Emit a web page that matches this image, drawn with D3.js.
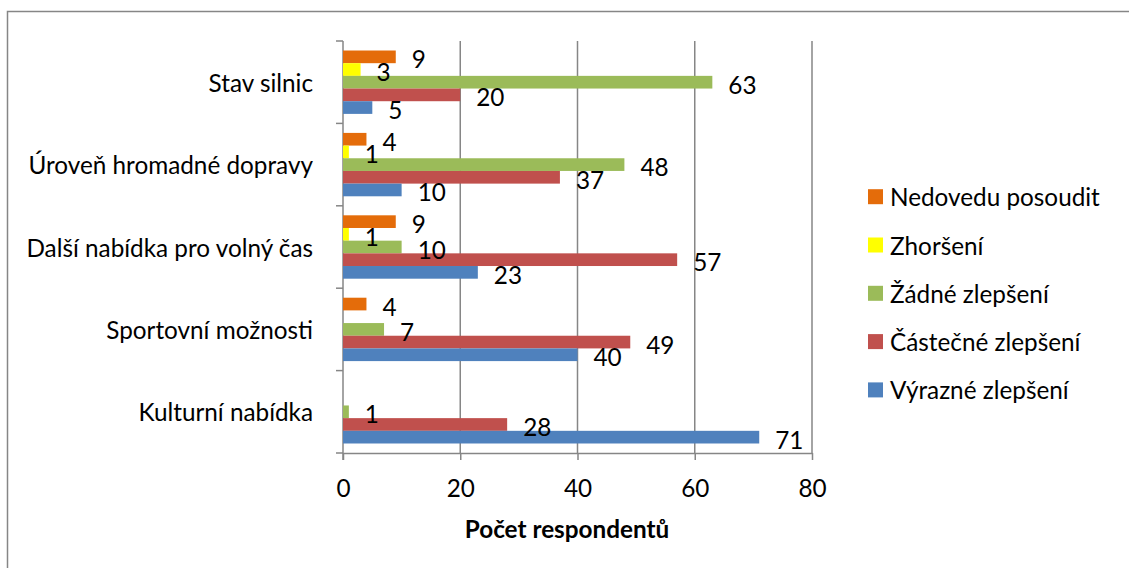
<!DOCTYPE html>
<html>
<head>
<meta charset="utf-8">
<script src="https://cdn.jsdelivr.net/npm/d3@7"></script>
<style>
  body { margin: 0; background: #fff; }
  text { font-family: Lato, "Open Sans", sans-serif; fill: #000; }
</style>
</head>
<body>
<svg id="chart" width="1129" height="568"></svg>
<script>
// categories top to bottom
var categories = ["Stav silnic", "Úroveň hromadné dopravy", "Další nabídka pro volný čas", "Sportovní možnosti", "Kulturní nabídka"]

// series in legend order (also top to bottom inside each group)
var seriesNames = ["Nedovedu posoudit", "Zhoršení", "Žádné zlepšení", "Částečné zlepšení", "Výrazné zlepšení"]
var seriesColors = ["#E46C0A", "#FFFF00", "#9BBB59", "#C0504D", "#4F81BD"]

// values per series, one per category (null = no bar)
var nedovedu = [9, 4, 9, 4, null]
var zhorseni = [3, 1, 1, null, null]
var zadne = [63, 48, 10, 7, 1]
var castecne = [20, 37, 57, 49, 28]
var vyrazne = [5, 10, 23, 40, 71]
var seriesValues = [nedovedu, zhorseni, zadne, castecne, vyrazne]

var xTicks = [0, 20, 40, 60, 80]

var margin = {top: 41, left: 343, right: 812, bottom: 453}
var fontSize = 24.3
var gray = "#868686"

var svg = d3.select("#chart")

// outer frame of the chart
svg.append("rect")
  .attr("x", 7.5).attr("y", 11.5)
  .attr("width", 1140).attr("height", 600)
  .attr("fill", "none")
  .attr("stroke", gray)
  .attr("stroke-width", 1.5)

var x = d3.scaleLinear()
  .domain([0, 80])
  .range([margin.left, margin.right])

var y = d3.scaleBand()
  .domain(categories)
  .range([margin.top, margin.bottom])

// gap width 150% -> 0.75 bar on each side of the group
var ySub = d3.scaleBand()
  .domain(seriesNames)
  .range([0, y.bandwidth()])
  .paddingInner(0)
  .paddingOuter(0.75)

// vertical gridlines
svg.append("g")
  .selectAll("line")
  .data(xTicks.slice(1))
  .enter().append("line")
  .attr("x1", d => x(d)).attr("x2", d => x(d))
  .attr("y1", margin.top).attr("y2", margin.bottom)
  .attr("stroke", gray)
  .attr("stroke-width", 1.5)

// x axis
var xAxis = svg.append("g")
  .attr("transform", "translate(0," + margin.bottom + ")")
  .call(d3.axisBottom(x).tickValues(xTicks).tickSize(7).tickSizeOuter(0))
xAxis.select(".domain").attr("stroke", gray).attr("stroke-width", 1.5)
xAxis.selectAll(".tick line").attr("stroke", gray).attr("stroke-width", 1.5)
xAxis.selectAll(".tick text")
  .attr("y", 34)
  .attr("dy", null)
  .attr("dominant-baseline", "central")
  .style("font-size", fontSize + "px")
  .style("font-family", "Lato, sans-serif")
  .attr("fill", "#000")

// y axis: tick marks at the category boundaries
var boundaries = d3.range(categories.length + 1).map(i => margin.top + i * y.step())
svg.append("g")
  .selectAll("line")
  .data(boundaries)
  .enter().append("line")
  .attr("x1", margin.left - 7).attr("x2", margin.left)
  .attr("y1", d => d).attr("y2", d => d)
  .attr("stroke", gray)
  .attr("stroke-width", 1.5)
svg.append("line")
  .attr("x1", margin.left).attr("x2", margin.left)
  .attr("y1", margin.top).attr("y2", margin.bottom + 7)
  .attr("stroke", gray)
  .attr("stroke-width", 1.5)

// category labels
svg.append("g")
  .selectAll("text")
  .data(categories)
  .enter().append("text")
  .attr("x", 313)
  .attr("y", d => y(d) + y.bandwidth() / 2)
  .attr("text-anchor", "end")
  .attr("dominant-baseline", "central")
  .style("font-size", fontSize + "px")
  .text(d => d)

// flatten to one row per bar
var rows = []
seriesNames.forEach(function(name, s) {
  categories.forEach(function(c, i) {
    if (seriesValues[s][i] != null) rows.push({series: name, s: s, cat: c, v: seriesValues[s][i]})
  })
})

// bars
svg.append("g")
  .selectAll("rect")
  .data(rows)
  .enter().append("rect")
  .attr("x", x(0))
  .attr("y", d => y(d.cat) + ySub(d.series))
  .attr("width", d => x(d.v) - x(0))
  .attr("height", ySub.bandwidth())
  .attr("fill", d => seriesColors[d.s])

// data labels on top of all bars
svg.append("g")
  .selectAll("text")
  .data(rows)
  .enter().append("text")
  .attr("x", d => x(d.v) + 16)
  .attr("y", d => y(d.cat) + ySub(d.series) + ySub.bandwidth() / 2 + 2)
  .attr("dominant-baseline", "central")
  .style("font-size", fontSize + "px")
  .text(d => d.v)

// axis title
svg.append("text")
  .attr("x", 567)
  .attr("y", 528)
  .attr("text-anchor", "middle")
  .attr("dominant-baseline", "central")
  .style("font-size", fontSize + "px")
  .style("font-weight", "bold")
  .text("Počet respondentů")

// legend
var legend = svg.append("g")
  .selectAll("g")
  .data(seriesNames)
  .enter().append("g")
  .attr("transform", (d, i) => "translate(868," + (196.7 + i * 48.3) + ")")
legend.append("rect")
  .attr("x", 0).attr("y", -7.5)
  .attr("width", 15).attr("height", 15)
  .attr("fill", (d, i) => seriesColors[i])
legend.append("text")
  .attr("x", 22)
  .attr("y", 0)
  .attr("dominant-baseline", "central")
  .style("font-size", fontSize + "px")
  .text(d => d)
</script>
</body>
</html>
